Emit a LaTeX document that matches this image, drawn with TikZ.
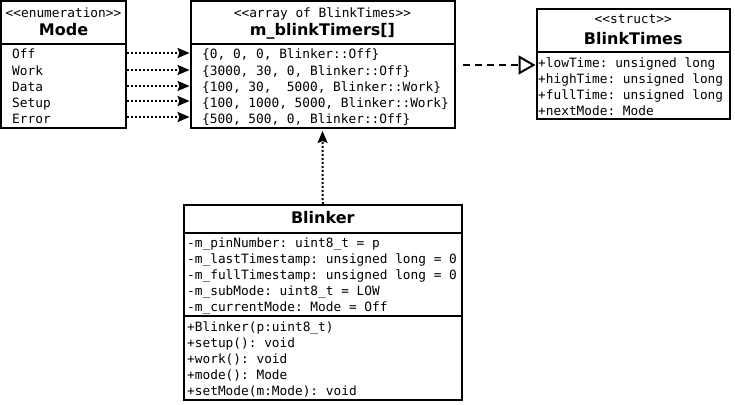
\documentclass[tikz,border=0pt]{standalone}
\usepackage{fontspec}
\setmainfont{DejaVu Sans}
\newfontfamily\monofont{DejaVu Sans Mono}
\usetikzlibrary{arrows.meta}
\frenchspacing
\tikzset{
  umlbox/.style={draw, line width=2pt, inner sep=0pt, rectangle},
  sep/.style={line width=2pt},
  rowtext/.style={anchor=base west, inner sep=0pt, font=\monofont\frenchspacing\fontsize{12.8}{14}\selectfont},
  stereo/.style={anchor=base, inner sep=0pt, font=\monofont\frenchspacing\fontsize{12.8}{14}\selectfont},
  title/.style={anchor=base, inner sep=0pt, font=\bfseries\fontsize{16}{18}\selectfont},
  dotarrow/.style={line width=2pt, dash pattern=on 2pt off 2pt, -{Stealth[length=12pt, width=10pt, inset=2pt]}},
  dasharrow/.style={line width=2pt, dash pattern=on 7pt off 5pt, -{Triangle[open, length=17pt, width=19pt, line width=2pt, fill=white]}}
}
\begin{document}
\begin{tikzpicture}[x=1pt, y=-1pt]
\useasboundingbox (0,0) rectangle (735,404);
% Mode
\node[umlbox, minimum width=125pt, minimum height=127pt] (mode) at (63.5,64.5) {};
\draw[sep] (mode.west |- 0,44) -- (mode.east |- 0,44);
\node[stereo] (modest) at (63.5,17.5) {<<enumeration>>};
\node[title] (modet) at (63.5,36) {Mode};
\node[rowtext] (m1) at (12,59) {Off};
\node[rowtext] (m2) at (12,75) {Work};
\node[rowtext] (m3) at (12,91) {Data};
\node[rowtext] (m4) at (12,107) {Setup};
\node[rowtext] (m5) at (12,123) {Error};
% m_blinkTimers
\node[umlbox, minimum width=264pt, minimum height=127pt] (arr) at (322.5,64.5) {};
\draw[sep] (arr.west |- 0,44) -- (arr.east |- 0,44);
\node[stereo] (arrst) at (322.5,18) {<<array of BlinkTimes>>};
\node[title] (arrt) at (322.5,36) {m\_blinkTimers[]};
\node[rowtext] (a1) at (202,59) {\{0, 0, 0, Blinker::Off\}};
\node[rowtext] (a2) at (202,75) {\{3000, 30, 0, Blinker::Off\}};
\node[rowtext] (a3) at (202,91) {\{100, 30,\ \ 5000, Blinker::Work\}};
\node[rowtext] (a4) at (202,107) {\{100, 1000, 5000, Blinker::Work\}};
\node[rowtext] (a5) at (202,123) {\{500, 500, 0, Blinker::Off\}};
% BlinkTimes
\node[umlbox, minimum width=193.5pt, minimum height=109.5pt] (bt) at (633.25,63.75) {};
\draw[sep] (bt.west |- 0,52) -- (bt.east |- 0,52);
\node[stereo] (btst) at (633.25,24) {<<struct>>};
\node[title] (btt) at (633.25,45) {BlinkTimes};
\node[rowtext] (b1) at (538,67) {+lowTime: unsigned long};
\node[rowtext] (b2) at (538,83) {+highTime: unsigned long};
\node[rowtext] (b3) at (538,99) {+fullTime: unsigned long};
\node[rowtext] (b4) at (538,115) {+nextMode: Mode};
% Blinker
\node[umlbox, minimum width=278.5pt, minimum height=195pt] (bl) at (322.75,302.5) {};
\draw[sep] (bl.west |- 0,233) -- (bl.east |- 0,233);
\draw[sep] (bl.west |- 0,316) -- (bl.east |- 0,316);
\node[title] (blt) at (322.75,223.5) {Blinker};
\node[rowtext] (c1) at (187,247) {-m\_pinNumber: uint8\_t = p};
\node[rowtext] (c2) at (187,263) {-m\_lastTimestamp: unsigned long = 0};
\node[rowtext] (c3) at (187,279) {-m\_fullTimestamp: unsigned long = 0};
\node[rowtext] (c4) at (187,295) {-m\_subMode: uint8\_t = LOW};
\node[rowtext] (c5) at (187,311) {-m\_currentMode: Mode = Off};
\node[rowtext] (d1) at (187,331) {+Blinker(p:uint8\_t)};
\node[rowtext] (d2) at (187,347) {+setup(): void};
\node[rowtext] (d3) at (187,363) {+work(): void};
\node[rowtext] (d4) at (187,379) {+mode(): Mode};
\node[rowtext] (d5) at (187,395) {+setMode(m:Mode): void};
% connectors
\coordinate (y1) at (0,53);
\coordinate (y2) at (0,70);
\coordinate (y3) at (0,86);
\coordinate (y4) at (0,101);
\coordinate (y5) at (0,117);
\foreach \i in {1,...,5} {
  \draw[dotarrow] (mode.east |- y\i) -- (arr.west |- y\i);
}
\coordinate (yd) at (0,65);
\draw[dasharrow, shorten <=7pt] (arr.east |- yd) -- (bt.west |- yd);
\draw[dotarrow, shorten >=2pt] (bl.north) -- (arr.south);
\end{tikzpicture}
\end{document}
